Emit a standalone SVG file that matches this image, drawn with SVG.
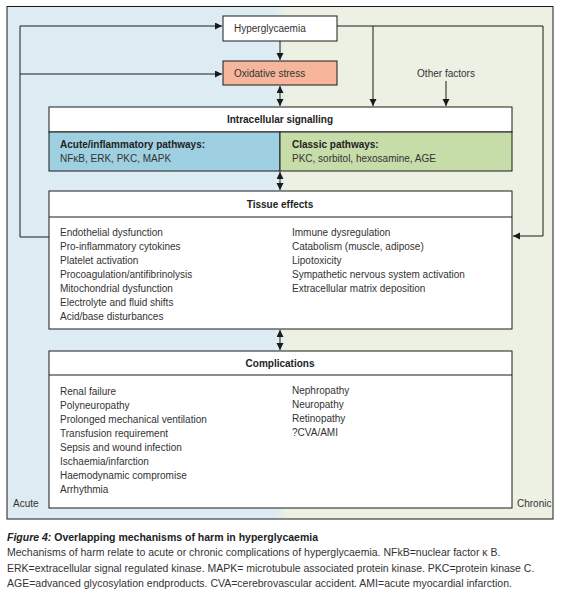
<svg xmlns="http://www.w3.org/2000/svg" width="563" height="600" viewBox="0 0 563 600">
<style>
.t{font-family:"Liberation Sans",Arial,sans-serif;font-size:10px;fill:#333}
.h{font-family:"Liberation Sans",Arial,sans-serif;font-size:10px;font-weight:bold;fill:#222}
.box{stroke:#1a1a1a;stroke-width:1}
.ln{fill:none;stroke:#1a1a1a;stroke-width:1}
.cap{font-family:"Liberation Sans",Arial,sans-serif;font-size:10.5px;fill:#333}
.capb{font-family:"Liberation Sans",Arial,sans-serif;font-size:10.5px;font-weight:bold;fill:#222}
</style>
<defs>
<linearGradient id="bg" x1="0" y1="0" x2="1" y2="0">
<stop offset="0" stop-color="#dcecf2"/>
<stop offset="0.49" stop-color="#dcecf2"/>
<stop offset="0.515" stop-color="#ecf1e4"/>
<stop offset="1" stop-color="#ecf1e4"/>
</linearGradient>
<marker id="ah" markerUnits="userSpaceOnUse" markerWidth="8" markerHeight="8" refX="7" refY="3.5" orient="auto-start-reverse">
<path d="M0,0 L7,3.5 L0,7 z" fill="#1a1a1a"/>
</marker>
</defs>
<rect width="563" height="600" fill="#fff"/>
<g id="frame">
<rect x="7" y="6.5" width="546" height="512.5" fill="url(#bg)" class="box"/>
<text class="t" x="13" y="507">Acute</text>
<text class="t" x="517" y="507">Chronic</text>
</g>
<g id="connectors">
<path class="ln" d="M49,237 H20 V26 H222" marker-end="url(#ah)"/>
<path class="ln" d="M20,74 H222" marker-end="url(#ah)"/>
<path class="ln" d="M337,26 H543 V236 H513" marker-end="url(#ah)"/>
<path class="ln" d="M373,26 V106" marker-end="url(#ah)"/>
<path class="ln" d="M446,81 V106" marker-end="url(#ah)"/>
<path class="ln" d="M280,41 V60" marker-end="url(#ah)"/>
<path class="ln" d="M280,86 V106" marker-start="url(#ah)" marker-end="url(#ah)"/>
<path class="ln" d="M280,172 V190" marker-start="url(#ah)" marker-end="url(#ah)"/>
<path class="ln" d="M280,330 V350" marker-start="url(#ah)" marker-end="url(#ah)"/>
</g>
<g id="hyperglycaemia">
<rect x="223" y="16" width="114" height="25" fill="#fff" class="box"/>
<text class="t" x="234" y="32">Hyperglycaemia</text>
</g>
<g id="oxidative-stress">
<rect x="223" y="61" width="114" height="24" fill="#f7b59b" class="box"/>
<text class="t" x="234" y="77">Oxidative stress</text>
</g>
<g id="other-factors">
<text class="t" x="446" y="77" text-anchor="middle">Other factors</text>
</g>
<g id="intracellular-signalling">
<rect x="49" y="107" width="463" height="25" fill="#fff" class="box"/>
<rect x="49" y="132" width="231" height="39" fill="#9fd0e1" class="box"/>
<rect x="280" y="132" width="232" height="39" fill="#c6dca9" class="box"/>
<text class="h" x="280" y="123" text-anchor="middle">Intracellular signalling</text>
<text class="h" x="60" y="148">Acute/inflammatory pathways:</text>
<text class="t" x="60" y="162">NFκB, ERK, PKC, MAPK</text>
<text class="h" x="292" y="148">Classic pathways:</text>
<text class="t" x="292" y="162">PKC, sorbitol, hexosamine, AGE</text>
</g>
<g id="tissue-effects">
<rect x="49" y="191" width="463" height="138" fill="#fff" class="box"/>
<line x1="49" y1="217" x2="512" y2="217" class="ln"/>
<text class="h" x="280" y="208" text-anchor="middle">Tissue effects</text>
<text class="t" x="60" y="236">Endothelial dysfunction</text>
<text class="t" x="60" y="250">Pro-inflammatory cytokines</text>
<text class="t" x="60" y="264">Platelet activation</text>
<text class="t" x="60" y="278">Procoagulation/antifibrinolysis</text>
<text class="t" x="60" y="292">Mitochondrial dysfunction</text>
<text class="t" x="60" y="306">Electrolyte and fluid shifts</text>
<text class="t" x="60" y="320">Acid/base disturbances</text>
<text class="t" x="292" y="236">Immune dysregulation</text>
<text class="t" x="292" y="250">Catabolism (muscle, adipose)</text>
<text class="t" x="292" y="264">Lipotoxicity</text>
<text class="t" x="292" y="278">Sympathetic nervous system activation</text>
<text class="t" x="292" y="292">Extracellular matrix deposition</text>
</g>
<g id="complications">
<rect x="49" y="351" width="463" height="157" fill="#fff" class="box"/>
<line x1="49" y1="375" x2="512" y2="375" class="ln"/>
<text class="h" x="280" y="367" text-anchor="middle">Complications</text>
<text class="t" x="60" y="395">Renal failure</text>
<text class="t" x="60" y="409">Polyneuropathy</text>
<text class="t" x="60" y="423">Prolonged mechanical ventilation</text>
<text class="t" x="60" y="437">Transfusion requirement</text>
<text class="t" x="60" y="451">Sepsis and wound infection</text>
<text class="t" x="60" y="465">Ischaemia/infarction</text>
<text class="t" x="60" y="479">Haemodynamic compromise</text>
<text class="t" x="60" y="493">Arrhythmia</text>
<text class="t" x="292" y="394">Nephropathy</text>
<text class="t" x="292" y="408">Neuropathy</text>
<text class="t" x="292" y="422">Retinopathy</text>
<text class="t" x="292" y="436">?CVA/AMI</text>
</g>
<g id="caption">
<text class="capb" x="7" y="541"><tspan font-style="italic">Figure 4:</tspan> Overlapping mechanisms of harm in hyperglycaemia</text>
<text class="cap" x="7" y="556">Mechanisms of harm relate to acute or chronic complications of hyperglycaemia. NFkB=nuclear factor κ B.</text>
<text class="cap" x="7" y="572">ERK=extracellular signal regulated kinase. MAPK= microtubule associated protein kinase. PKC=protein kinase C.</text>
<text class="cap" x="7" y="587">AGE=advanced glycosylation endproducts. CVA=cerebrovascular accident. AMI=acute myocardial infarction.</text>
</g>
</svg>
